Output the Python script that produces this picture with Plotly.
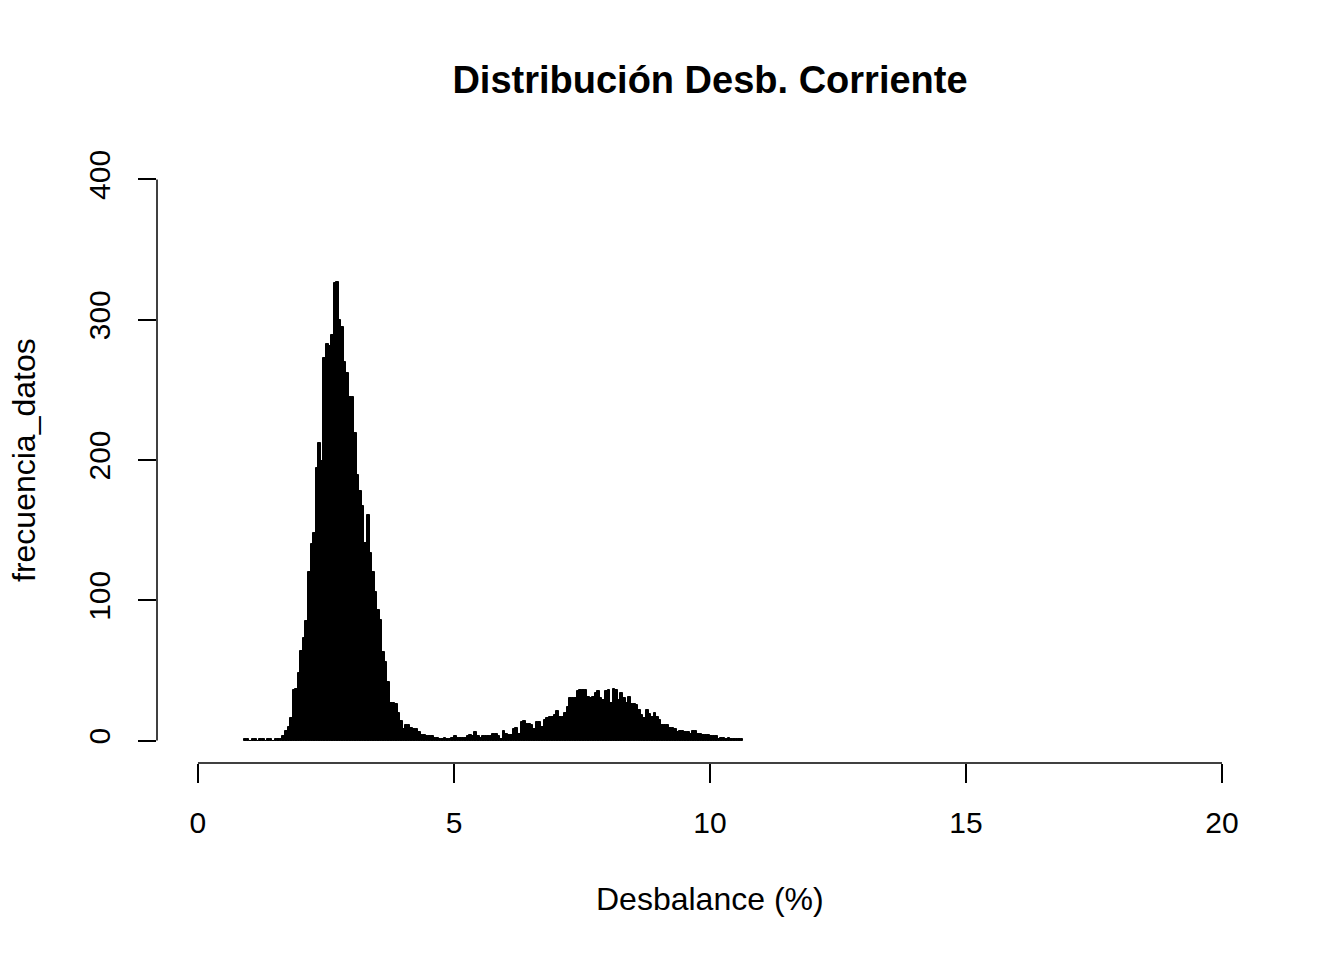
import numpy as np
import plotly.graph_objects as go

# Histogram of "Desbalance (%)" — bin width 0.05, first bin starts at 0.90
bin_width = 0.05
first_bin = 0.90
counts = [
    1, 1, 0, 1, 1, 0, 1, 1, 0, 1, 1, 0, 1, 1, 1,
    3, 7, 10, 16, 36, 37, 48, 64, 73, 85, 120, 140, 148, 194, 212, 199, 273, 283, 281, 289,
    326, 327, 300, 295, 270, 262, 245, 245, 219, 189, 178, 167, 141, 161,
    134, 120, 106, 93, 86, 63, 56, 42, 27, 27,
    26, 20, 14, 8, 11, 11, 9, 8, 8, 6,
    4, 4, 3, 3, 3, 2, 2, 1, 1, 2,
    1, 1, 2, 3, 2, 2, 2, 2, 3, 4,
    3, 6, 3, 2, 3, 3, 3, 3, 5, 5,
    3, 1, 7, 5, 4, 4, 8, 9, 5, 13,
    14, 12, 12, 11, 8, 13, 13, 10, 15, 16,
    17, 17, 18, 21, 17, 17, 20, 24, 30, 30,
    30, 35, 36, 36, 36, 31, 30, 31, 34, 35,
    30, 29, 35, 36, 27, 37, 36, 29, 34, 30,
    27, 31, 26, 26, 25, 22, 18, 16, 22, 19,
    17, 20, 17, 15, 11, 11, 11, 9, 9, 8,
    6, 7, 7, 6, 6, 5, 7, 7, 5, 5,
    4, 4, 4, 3, 3, 3, 1, 2, 2, 1,
    2, 1, 1, 1, 1, 1,
]
bin_left = np.round(first_bin + bin_width * np.arange(len(counts)), 2)
bin_center = bin_left + bin_width / 2

x_ticks = [0, 5, 10, 15, 20]
y_ticks = [0, 100, 200, 300, 400]

title_text = "Distribución Desb. Corriente"
x_label = "Desbalance (%)"
y_label = "frecuencia_datos"

FONT = "Arial, Liberation Sans, sans-serif"

fig = go.Figure()
fig.add_trace(go.Bar(
    x=bin_center, y=counts, width=bin_width,
    marker=dict(color="black", line=dict(color="black", width=1)),
    hoverinfo="x+y", showlegend=False,
))

# page body has an 8px margin; positions below are target pixels minus 8
OFF = 8
W, H = 1344, 960
left, right, top, bottom = 157 - OFF, 1263 - OFF, 156.5 - OFF, 763.5 - OFF

fig.update_layout(
    width=W, height=H,
    margin=dict(l=left, r=W - right, t=top, b=H - bottom, pad=0),
    paper_bgcolor="white", plot_bgcolor="white",
    bargap=0,
    font=dict(family=FONT, color="black", size=30),
    title=dict(text="<b>" + title_text + "</b>", x=0.5, xref="paper",
               xanchor="center", y=1 - (80 - OFF) / H, yanchor="middle",
               font=dict(size=38, family=FONT, color="black")),
    xaxis=dict(range=[-0.8, 20.8], tickvals=x_ticks, ticktext=[str(v) for v in x_ticks],
               showgrid=False, zeroline=False, showline=False,
               ticks="outside", ticklen=19, tickwidth=1.5, tickcolor="black",
               ticklabelstandoff=14,
               tickfont=dict(size=30, family=FONT, color="black"), fixedrange=True),
    yaxis=dict(range=[-16, 416], tickvals=y_ticks, ticktext=[str(v) for v in y_ticks],
               showgrid=False, zeroline=False, showline=False,
               ticks="outside", ticklen=18, tickwidth=1.5, tickcolor="black",
               tickangle=-90, ticklabelstandoff=16,
               tickfont=dict(size=30, family=FONT, color="black"), fixedrange=True),
)

# axis lines spanning only the tick range (R style)
fig.add_shape(type="line", xref="x", yref="paper", x0=x_ticks[0], x1=x_ticks[-1], y0=0, y1=0,
              line=dict(color="black", width=1.5))
fig.add_shape(type="line", xref="paper", yref="y", x0=0, x1=0, y0=y_ticks[0], y1=y_ticks[-1],
              line=dict(color="black", width=1.5))

ph = bottom - top
pw = right - left
fig.add_annotation(text=x_label, xref="paper", yref="paper", x=0.5, y=(bottom - (900 - OFF)) / ph,
                   xanchor="center", yanchor="middle", showarrow=False,
                   font=dict(size=32, family=FONT, color="black"))
fig.add_annotation(text=y_label, xref="paper", yref="paper", x=((24 - OFF) - left) / pw,
                   y=(bottom - (460 - OFF)) / ph, textangle=-90,
                   xanchor="center", yanchor="middle", showarrow=False,
                   font=dict(size=32, family=FONT, color="black"))

fig.write_html("out.html")
